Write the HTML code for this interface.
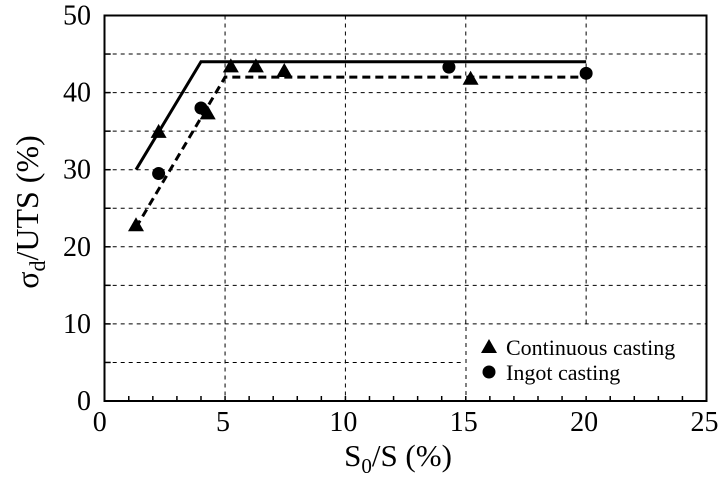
<!DOCTYPE html>
<html><head><meta charset="utf-8"><style>
body{margin:0;background:#fff}
svg text{font-family:"Liberation Serif",serif;fill:#000}
</style></head><body>
<svg width="723" height="489" viewBox="0 0 723 489" id="chart">
<g id="grid"></g>
<rect x="468" y="327" width="237" height="72" fill="#fff"/>
<line x1="466" y1="327" x2="466" y2="400" stroke="#000" stroke-width="1" stroke-dasharray="4,4"/>
<g id="ticks"></g>
<g id="lines"></g>
<g id="marks"></g>
<rect x="104.5" y="15.5" width="602" height="385.5" fill="none" stroke="#000" stroke-width="2"/>
<g id="labels"></g>
<text x="398" y="466" font-size="31" text-anchor="middle">S<tspan font-size="21" dy="7">0</tspan><tspan dy="-7">/S (%)</tspan></text>
<text transform="translate(38,212) rotate(-90)" font-size="32" text-anchor="middle">σ<tspan font-size="22" dy="7">d</tspan><tspan dy="-7">/UTS (%)</tspan></text>
<g>
<polygon points="489,339 481,353 497,353" fill="#000"/>
<text x="506" y="355" font-size="22">Continuous casting</text>
<circle cx="489" cy="372" r="6.5" fill="#000"/>
<text x="506" y="380" font-size="22">Ingot casting</text>
</g>
</svg>
<script>
const xTicks=[0,5,10,15,20,25];
const yTicks=[0,10,20,30,40,50];
const solidX=[1.3,4,20], solidY=[30,44,44];
const dashX=[1.3,5,20], dashY=[22.5,42,42];
const triX=[1.3,2.24,4.28,5.24,6.28,7.46,15.2];
const triY=[22.8,34.9,37.3,43.4,43.4,42.8,41.8];
const cirX=[2.24,4.0,14.3,20.0];
const cirY=[29.5,38.0,43.3,42.5];
const NS="http://www.w3.org/2000/svg";
const X0=104.7,X1=706.5,Y0=401,Y1=15.5;
const sx=v=>X0+(X1-X0)*v/25, sy=v=>Y0-(Y0-Y1)*v/50;
function mk(tag,attrs,parent){const e=document.createElementNS(NS,tag);for(const k in attrs)e.setAttribute(k,attrs[k]);document.getElementById(parent).appendChild(e);return e;}
for(let v=5;v<=45;v+=5){
 const x2 = v<10 ? sx(15)-3 : X1;
 const e=mk('line',{x1:X0,x2:x2,y1:sy(v),y2:sy(v),stroke:'#000','stroke-width':1,'stroke-dasharray':'4,4'},'grid');
 
 
}
[5,10,15,20].forEach(v=>{
 const y2 = v==20 ? sy(10) : (v==15? 327 : Y0);
 const e=mk('line',{x1:sx(v),x2:sx(v),y1:Y1,y2:y2,stroke:'#000','stroke-width':1,'stroke-dasharray':'4,4'},'grid');
 
 
});
for(let v=1;v<25;v++){
 const e=mk('line',{x1:sx(v),x2:sx(v),y1:Y0,y2:Y0-5,stroke:'#000','stroke-width':1.5},'ticks');
 
 
}
for(let v=5;v<50;v+=5){
 const e=mk('line',{x1:X0,x2:X0+6,y1:sy(v),y2:sy(v),stroke:'#000','stroke-width':1.5},'ticks');
 
 
}
xTicks.forEach(v=>{
 const t=mk('text',{x:sx(v)-(v==0?5:2),y:431,'font-size':28,'text-anchor':'middle'},'labels');
 t.textContent=v;
 
 
});
yTicks.forEach(v=>{
 const t=mk('text',{x:91,y:sy(v)+9,'font-size':28,'text-anchor':'end'},'labels');
 t.textContent=v;
 
 
});
const sp=mk('polyline',{points:solidX.map((x,i)=>sx(x)+','+sy(solidY[i])).join(' '),fill:'none',stroke:'#000','stroke-width':3},'lines');


const dp=mk('polyline',{points:dashX.map((x,i)=>sx(x)+','+sy(dashY[i])).join(' '),fill:'none',stroke:'#000','stroke-width':3,'stroke-dasharray':'8,5'},'lines');


triX.forEach((x,i)=>{
 const cx=sx(x),cy=sy(triY[i]);
 const p=mk('polygon',{points:`${cx},${cy-8} ${cx-8},${cy+6} ${cx+8},${cy+6}`,fill:'#000'},'marks');
 
 
});
cirX.forEach((x,i)=>{
 const c=mk('circle',{cx:sx(x),cy:sy(cirY[i]),r:6.5,fill:'#000'},'marks');
 
 
});
</script>
</body></html>
